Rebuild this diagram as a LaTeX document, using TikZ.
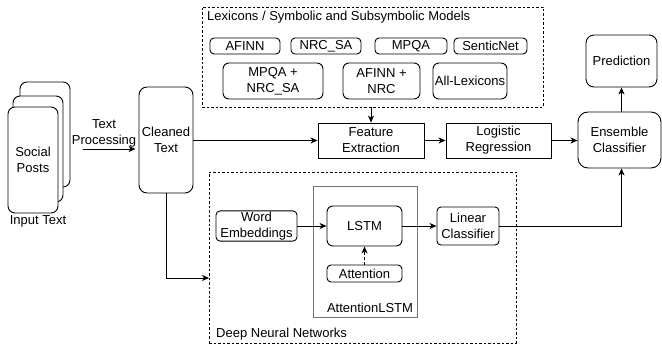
\documentclass[tikz,border=0pt]{standalone}
\usepackage{fontspec}
\setmainfont{Liberation Sans}
\usetikzlibrary{arrows.meta,calc}
\begin{document}
\begin{tikzpicture}[x=1pt,y=-1pt,
  every node/.style={font=\fontsize{13}{16}\selectfont, inner sep=1pt, align=center},
  box/.style={draw, line width=0.9pt, rounded corners=#1, fill=white},
  box/.default=4pt,
  sq/.style={draw, line width=0.9pt, fill=white},
  dbox/.style={draw, line width=0.8pt, dash pattern=on 2.5pt off 2pt},
  arr/.style={line width=0.9pt, -{Stealth[length=7pt,width=6pt,inset=2pt]}},
  lbl/.style={inner sep=0pt}
]
\useasboundingbox (0,0) rectangle (662,347);

% input posts
\node[box=7pt, minimum width=50pt, minimum height=105pt] (card3) at (45,134.5) {};
\node[box=7pt, minimum width=50pt, minimum height=106pt] (card2) at (38,149) {};
\node[box=7pt, minimum width=50pt, minimum height=106pt] (posts) at (33,160) {Social\\Posts};
\node[lbl] (inlbl) at (38,221) {Input Text};

% cleaned text
\node[box=8pt, minimum width=54pt, minimum height=106pt] (ct) at (166,140) {Cleaned\\Text};
\node[lbl] (tplbl) at (104,133) {Text\\Processing};
\coordinate (tpstart) at (83,149);
\draw[arr] (tpstart) -- ($(tpstart -| ct.west)+(-3,0)$);

% lexicons
\node[dbox, minimum width=341pt, minimum height=100pt] (lexbox) at (372.5,57) {};
\node[lbl, anchor=west] (lextitle) at (207,17) {Lexicons / Symbolic and Subsymbolic Models};
\node[box, minimum width=70pt, minimum height=16pt] (afinn) at (245,46) {AFINN};
\node[box, minimum width=70pt, minimum height=16pt] (nrc) at (326,46) {NRC\_SA};
\node[box, minimum width=72pt, minimum height=16pt] (mpqa) at (411,46) {MPQA};
\node[box, minimum width=73pt, minimum height=16pt] (sentic) at (490.5,46) {SenticNet};
\node[box=6pt, minimum width=100pt, minimum height=36pt] (mpqanrc) at (273,81) {MPQA +\\NRC\_SA};
\node[box=6pt, minimum width=77pt, minimum height=36pt] (afinnnrc) at (381.5,81) {AFINN +\\NRC};
\node[box=6pt, minimum width=74pt, minimum height=36pt] (all) at (470,81) {All-Lexicons};

% feature pipeline
\node[sq, minimum width=106pt, minimum height=35pt] (fe) at (371,140.5) {Feature\\Extraction};
\node[sq, minimum width=105pt, minimum height=35pt] (lr) at (498.5,140.5) {Logistic\\Regression};
\node[box=10pt, minimum width=83pt, minimum height=56pt] (ens) at (619.5,140) {Ensemble\\Classifier};
\node[box=8pt, minimum width=71pt, minimum height=52pt] (pred) at (621.5,61) {Prediction};

% deep neural networks
\node[dbox, minimum width=307pt, minimum height=171pt] (dnn) at (362.5,257.5) {};
\node[lbl, anchor=west] (dnnlbl) at (216,334) {Deep Neural Networks};
\node[draw=black!55, line width=0.8pt, minimum width=104pt, minimum height=131pt] (attframe) at (365,251.5) {};
\node[lbl] (attlbl) at (370,307.5) {AttentionLSTM};
\node[box, minimum width=81pt, minimum height=30pt] (we) at (256.5,226) {Word\\Embeddings};
\node[box=6pt, minimum width=75pt, minimum height=40pt] (lstm) at (364.5,226) {LSTM};
\node[box, minimum width=75pt, minimum height=17pt] (att) at (364.5,273.5) {Attention};
\node[box, minimum width=62pt, minimum height=38pt] (lc) at (468,226) {Linear\\Classifier};

% connectors
\draw[arr] (ct.east |- fe.west) -- (fe.west);
\draw[arr] (fe.east) -- (lr.west);
\draw[arr] (lr.east) -- (lr.east -| ens.west);
\draw[arr] (lexbox.south -| fe.north) -- (fe.north);
\draw[arr] (ens.north -| pred.south) -- (pred.south);
\coordinate (dnnin) at (209,278);
\draw[arr] (ct.south) |- (dnnin);
\draw[arr] (we.east) -- (lstm.west);
\draw[arr] (lstm.east) -- (lc.west);
\draw[arr, dash pattern=on 3pt off 2pt] (att.north) -- (lstm.south);
\draw[arr] (lc.east) -| (pred.south |- ens.south);
\end{tikzpicture}
\end{document}
